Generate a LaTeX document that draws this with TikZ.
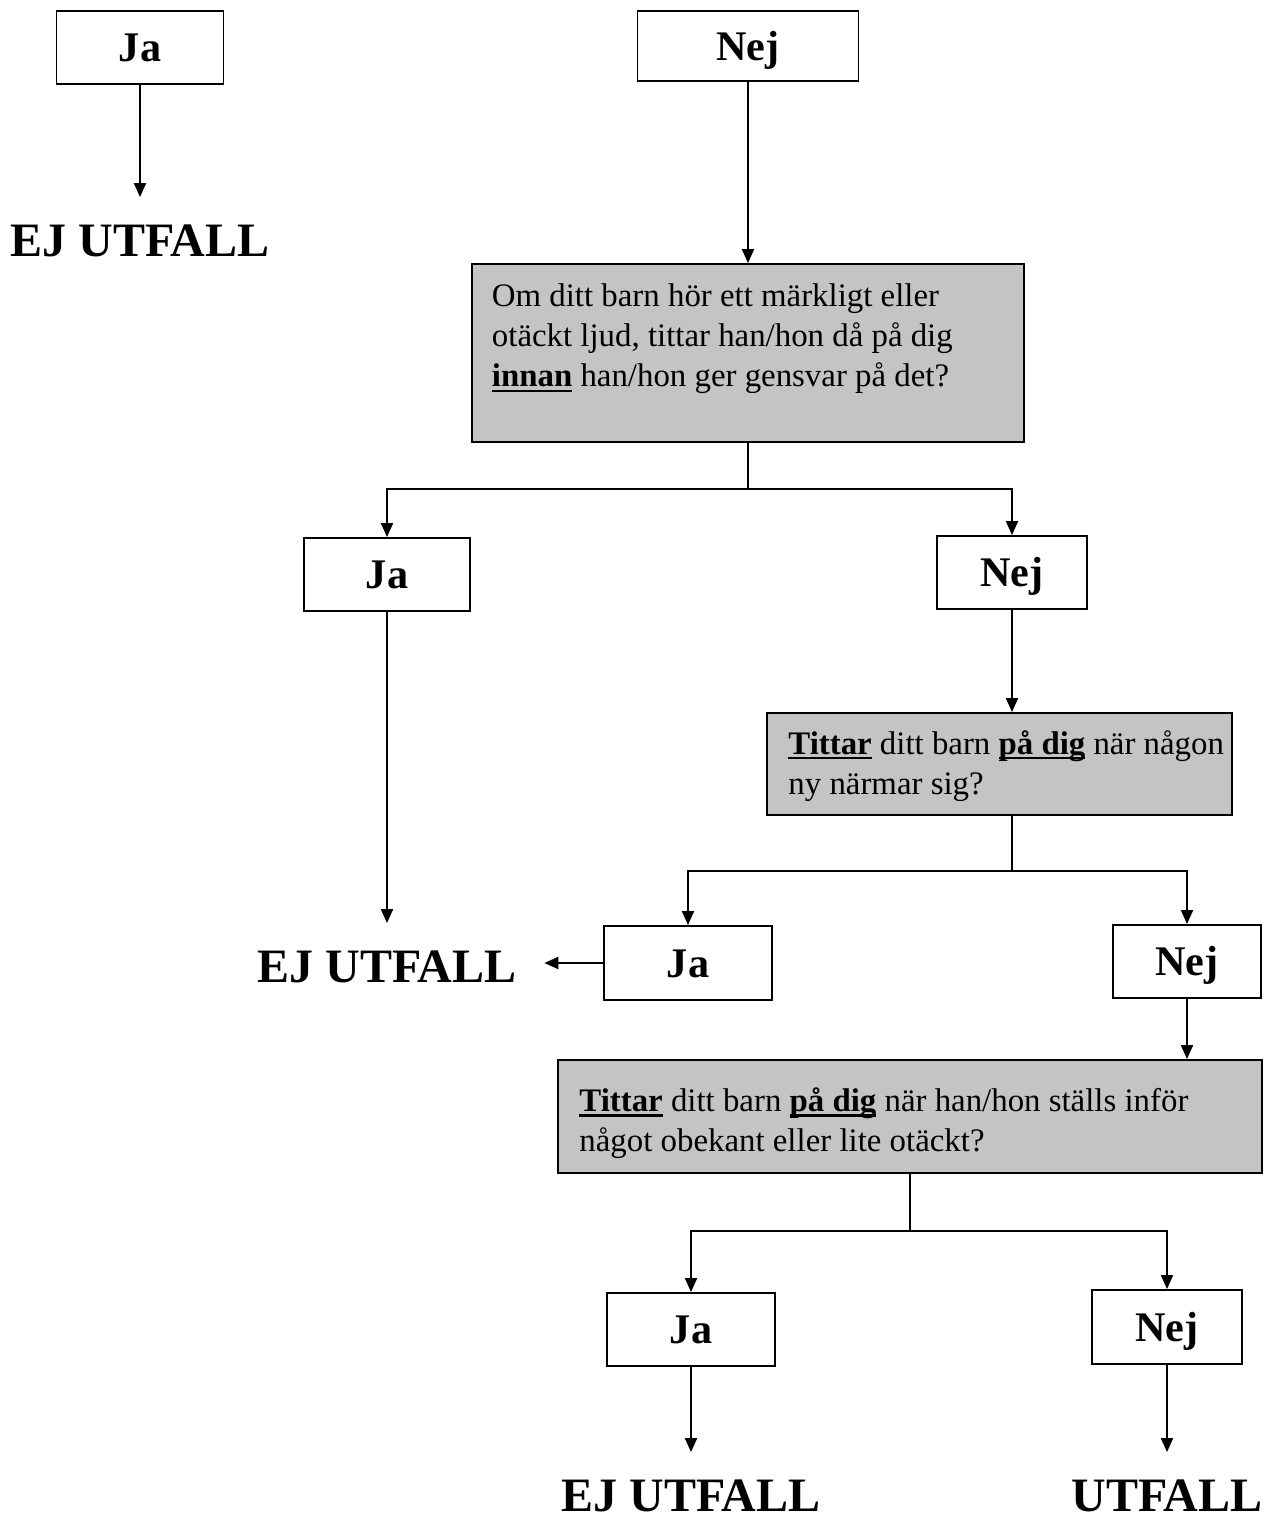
\documentclass[tikz,border=0pt]{standalone}
\usepackage{fontspec}
\setmainfont{Liberation Serif}
\usetikzlibrary{
    arrows.meta,
    positioning
}
\definecolor{qgray}{RGB}{196,196,196}
\newcommand{\ulbold}[1]{\setbox0=\hbox{\bfseries #1}\rlap{\rule[-0.16em]{\wd0}{0.075em}}\box0\relax}

\begin{document}
\begin{tikzpicture}[
    x=0.02cm, y=-0.02cm,
    ansbox/.style={
        rectangle, draw, line width=1.1pt, fill=white,
        minimum height=1.46cm, text height=16.3pt, text depth=0pt,
        font=\fontsize{24}{28}\selectfont\bfseries
    },
    qbox/.style={rectangle, draw, line width=1.1pt, fill=qgray},
    qtext/.style={inner sep=0pt, align=left, font=\fontsize{18.7}{22.8}\selectfont},
    outcome/.style={inner sep=0.55cm, font=\fontsize{27.3}{32}\selectfont\bfseries},
    arrow/.style={-{Triangle[length=0.28cm, width=0.24cm]}, line width=1.1pt}
]
\useasboundingbox (0,0) rectangle (1269,1519);

% Top row
\node[ansbox, minimum width=3.34cm] (ja1) at (140,47.5) {Ja};
\node[ansbox, minimum width=4.42cm, minimum height=1.40cm] (nej1) at (748,46) {Nej};
\node[outcome] (eju1) at (140,241) {EJ UTFALL};

% First question
\node[qbox, minimum width=11.06cm, minimum height=3.56cm] (q1) at (748,353) {};
\node[qtext, below right=0.41cm and 0.42cm of q1.north west] (q1txt)
    {Om ditt barn hör ett märkligt eller\\otäckt ljud, tittar han/hon då på dig\\\ulbold{innan} han/hon ger gensvar på det?};

% Answers to first question
\node[ansbox, minimum width=3.32cm] (ja2) at (387,574.5) {Ja};
\node[ansbox, minimum width=3.0cm] (nej2) at (1012,572.5) {Nej};
\node[outcome] (eju2) at (387,967) {EJ UTFALL};

% Second question
\node[qbox, minimum width=9.30cm, minimum height=2.04cm] (q2) at (999.5,764) {};
\node[qtext, below right=0.36cm and 0.44cm of q2.north west] (q2txt)
    {\ulbold{Tittar} ditt barn \ulbold{på dig} när någon\\ny närmar sig?};

% Answers to second question
\node[ansbox, minimum width=3.36cm, minimum height=1.48cm] (ja3) at (688,963) {Ja};
\node[ansbox, minimum width=2.96cm] (nej3) at (1187,961.5) {Nej};

% Third question
\node[qbox, minimum width=14.08cm, minimum height=2.26cm] (q3) at (910,1116.5) {};
\node[qtext, below right=0.57cm and 0.44cm of q3.north west] (q3txt)
    {\ulbold{Tittar} ditt barn \ulbold{på dig} när han/hon ställs inför\\något obekant eller lite otäckt?};

% Answers to third question
\node[ansbox, minimum width=3.36cm] (ja4) at (691,1329.5) {Ja};
\node[ansbox, minimum width=3.0cm, minimum height=1.48cm] (nej4) at (1167,1327) {Nej};
\node[outcome] (eju3) at (691,1496) {EJ UTFALL};
\node[outcome] (utf) at (1167,1496) {UTFALL};

% Connectors
\draw[arrow] (ja1) -- (eju1);
\draw[arrow] (nej1) -- (q1);

\path (q1.south) ++(0,46) coordinate (f1);
\draw[line width=1.1pt] (q1.south) -- (f1);
\draw[arrow] (f1) -| (ja2);
\draw[arrow] (f1) -| (nej2);

\draw[arrow] (ja2) -- (eju2);
\draw[arrow] (nej2) -- (nej2 |- q2.north);

\path (q2.south -| nej2) ++(0,55) coordinate (f2);
\draw[line width=1.1pt] (q2.south -| nej2) -- (f2);
\draw[arrow] (f2) -| (ja3);
\draw[arrow] (f2) -| (nej3);

\draw[arrow] (ja3.west) -- (ja3.west -| eju2.east);
\draw[arrow] (nej3) -- (nej3 |- q3.north);

\path (q3.south) ++(0,57) coordinate (f3);
\draw[line width=1.1pt] (q3.south) -- (f3);
\draw[arrow] (f3) -| (ja4);
\draw[arrow] (f3) -| (nej4);

\draw[arrow] (ja4) -- (eju3);
\draw[arrow] (nej4) -- (utf);

\end{tikzpicture}
\end{document}
